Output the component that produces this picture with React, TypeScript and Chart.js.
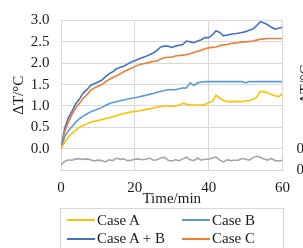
import React, { useEffect, useRef } from "react";
import { Chart, registerables } from "chart.js";

Chart.register(...registerables);

const timeMin = [0,1,2,3,4,5,6,7,8,9,10,11,12,13,14,15,16,17,18,19,20,21,22,23,24,25,26,27,28,29,30,31,32,33,34,35,36,37,38,39,40,41,42,43,44,45,46,47,48,49,50,51,52,53,54,55,56,57,58,59,60];

const caseA = [0,0.15,0.27,0.36,0.43,0.5,0.54,0.58,0.62,0.64,0.66,0.68,0.7,0.72,0.75,0.77,0.8,0.82,0.84,0.86,0.87,0.88,0.9,0.92,0.93,0.95,0.97,0.99,1.0,1.0,0.99,1.0,1.02,1.06,1.04,1.02,1.02,1.02,1.02,1.03,1.08,1.1,1.25,1.18,1.13,1.1,1.1,1.1,1.1,1.1,1.12,1.12,1.16,1.2,1.34,1.33,1.3,1.27,1.24,1.22,1.28];

const caseB = [0,0.28,0.42,0.52,0.62,0.7,0.76,0.81,0.86,0.89,0.93,0.96,1.01,1.05,1.08,1.1,1.12,1.14,1.16,1.18,1.19,1.21,1.23,1.25,1.27,1.29,1.32,1.34,1.36,1.38,1.38,1.38,1.4,1.42,1.42,1.54,1.48,1.54,1.56,1.57,1.57,1.57,1.57,1.57,1.57,1.57,1.57,1.57,1.57,1.57,1.54,1.57,1.57,1.57,1.57,1.57,1.57,1.57,1.57,1.57,1.57];

const caseAB = [0,0.48,0.72,0.88,1.05,1.16,1.3,1.38,1.48,1.52,1.56,1.6,1.68,1.75,1.8,1.87,1.9,1.93,1.98,2.03,2.06,2.1,2.13,2.16,2.2,2.24,2.3,2.38,2.4,2.4,2.37,2.4,2.42,2.44,2.52,2.5,2.48,2.52,2.55,2.6,2.6,2.66,2.76,2.72,2.64,2.66,2.68,2.69,2.7,2.72,2.74,2.77,2.8,2.88,2.97,2.94,2.9,2.84,2.8,2.82,2.84];

const caseC = [0,0.4,0.62,0.8,0.95,1.06,1.18,1.26,1.36,1.42,1.46,1.5,1.56,1.62,1.66,1.7,1.75,1.8,1.84,1.88,1.92,1.96,1.98,2.0,2.02,2.04,2.05,2.1,2.13,2.14,2.14,2.17,2.18,2.19,2.2,2.22,2.25,2.28,2.3,2.34,2.36,2.37,2.38,2.41,2.43,2.44,2.46,2.47,2.48,2.5,2.5,2.51,2.52,2.54,2.56,2.57,2.58,2.58,2.58,2.58,2.58];

const difference = [-0.38,-0.3,-0.26,-0.27,-0.24,-0.24,-0.25,-0.24,-0.26,-0.29,-0.27,-0.28,-0.31,-0.26,-0.28,-0.22,-0.25,-0.24,-0.28,-0.27,-0.25,-0.24,-0.26,-0.25,-0.22,-0.27,-0.26,-0.22,-0.2,-0.27,-0.29,-0.26,-0.28,-0.24,-0.2,-0.26,-0.28,-0.22,-0.27,-0.25,-0.25,-0.22,-0.2,-0.27,-0.31,-0.26,-0.28,-0.27,-0.27,-0.23,-0.25,-0.27,-0.21,-0.18,-0.2,-0.24,-0.27,-0.23,-0.28,-0.29,-0.27];

const seriesNames = ["Case A", "Case B", "Case A + B", "Case C"];
const seriesColors = ["#FFC000", "#5B9BD5", "#4472C4", "#ED7D31"];
const diffColor = "#A5A5A5";

const xTicks = [0, 20, 40, 60];
const yMin = -0.5;
const yMax = 3.0;
const yStep = 0.5;
const rightTickValues = [0, -0.5];
const rightTickLabels = ["0.1", "0.0"];
const yTitle = "ΔT/°C";
const rightTitle = "ΔT/°C";
const xTitle = "Time/min";

const FONT = "'Liberation Serif', 'Times New Roman', serif";
const TEXT = "#1a1a1a";
const GRID = "#d9d9d9";

const rightAxisPlugin = {
  id: "rightAxisText",
  afterDraw(chart: any) {
    const { ctx, chartArea } = chart;
    const y = chart.scales.y;
    ctx.save();
    ctx.fillStyle = TEXT;
    ctx.font = `15px ${FONT}`;
    ctx.textAlign = "left";
    ctx.textBaseline = "middle";
    rightTickValues.forEach((v, i) => {
      ctx.fillText(rightTickLabels[i], chartArea.right + 14, y.getPixelForValue(v));
    });
    ctx.translate(chartArea.right + 24, 84);
    ctx.rotate(-Math.PI / 2);
    ctx.textAlign = "center";
    ctx.fillText(rightTitle, 0, 0);
    ctx.restore();
  },
};

function pts(vals: number[]) {
  return vals.map((v, i) => ({ x: timeMin[i], y: v }));
}

export default function App() {
  const ref = useRef<HTMLCanvasElement | null>(null);

  useEffect(() => {
    if (!ref.current) return;
    const mk = (label: string, data: number[], color: string) => ({
      label,
      data: pts(data),
      borderColor: color,
      backgroundColor: color,
      borderWidth: 1.6,
      pointRadius: 0,
      tension: 0,
      fill: false,
    });
    const chart = new Chart(ref.current, {
      type: "line",
      data: {
        datasets: [
          mk("Difference", difference, diffColor),
          mk(seriesNames[0], caseA, seriesColors[0]),
          mk(seriesNames[1], caseB, seriesColors[1]),
          mk(seriesNames[3], caseC, seriesColors[3]),
          mk(seriesNames[2], caseAB, seriesColors[2]),
        ],
      },
      options: {
        responsive: false,
        animation: false,
        layout: { padding: { left: 0, right: 20.5, top: 20.5, bottom: 0 } },
        plugins: { legend: { display: false }, tooltip: { enabled: false } },
        scales: {
          x: {
            type: "linear",
            min: 0,
            max: 60,
            afterBuildTicks: (s: any) => {
              s.ticks = xTicks.map((v) => ({ value: v }));
            },
            afterFit: (s: any) => {
              s.height = 40;
            },
            grid: { color: GRID, drawTicks: false, lineWidth: 1 },
            border: { display: true, color: GRID },
            ticks: { color: TEXT, font: { family: FONT, size: 15 }, padding: 9, maxRotation: 0 },
            title: {
              display: true,
              text: xTitle,
              color: TEXT,
              font: { family: FONT, size: 15 },
              padding: { top: 0, bottom: 1.5 },
            },
          },
          y: {
            min: yMin,
            max: yMax,
            afterFit: (s: any) => {
              s.width = 61;
            },
            grid: { color: GRID, drawTicks: false, lineWidth: 1 },
            border: { display: true, color: GRID },
            ticks: {
              stepSize: yStep,
              color: TEXT,
              font: { family: FONT, size: 15 },
              padding: 11.5,
              callback: (v: any) => (Number(v) < 0 ? "" : Number(v).toFixed(1)),
            },
            title: {
              display: true,
              text: yTitle,
              color: TEXT,
              font: { family: FONT, size: 15 },
              padding: { top: 10, bottom: 0 },
            },
          },
        },
      },
      plugins: [rightAxisPlugin],
    } as any);
    return () => chart.destroy();
  }, []);

  const legendPos = [
    { left: 67, top: 211 },
    { left: 182, top: 211 },
    { left: 67, top: 229.5 },
    { left: 182, top: 229.5 },
  ];

  return (
    <div style={{ position: "relative", width: 303, height: 248, overflow: "hidden", background: "#fff" }}>
      <style>{`html,body{margin:0;padding:0;overflow:hidden;background:#fff}`}</style>
      <canvas ref={ref} width={303} height={210} style={{ position: "absolute", left: 0, top: 0, display: "block" }} />
      <div
        style={{
          position: "absolute",
          left: 60,
          top: 208,
          width: 224,
          height: 60,
          border: `1px solid ${GRID}`,
          boxSizing: "border-box",
        }}
      />
      {seriesNames.map((name, i) => (
        <div
          key={name}
          style={{
            position: "absolute",
            left: legendPos[i].left,
            top: legendPos[i].top,
            height: 18,
            display: "flex",
            alignItems: "center",
            fontFamily: FONT,
            fontSize: 15,
            color: TEXT,
            whiteSpace: "nowrap",
          }}
        >
          <span style={{ display: "inline-block", width: 28, height: 2, background: seriesColors[i], marginRight: 2 }} />
          <span>{name}</span>
        </div>
      ))}
    </div>
  );
}
